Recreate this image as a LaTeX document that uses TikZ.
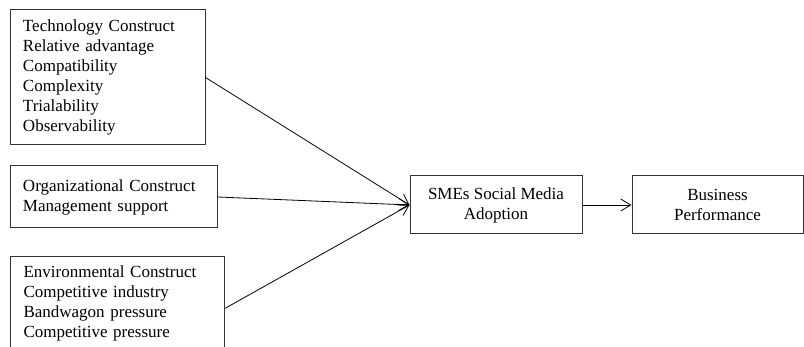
\documentclass[tikz,border=0pt]{standalone}
\usepackage{fontspec}
\setmainfont{Liberation Serif}
\usetikzlibrary{arrows.meta}

\begin{document}
\begin{tikzpicture}[x=1pt, y=1pt,
  construct/.style={draw=black!80, line width=1pt, text width=#1, align=left,
    inner xsep=13pt, inner ysep=9pt, font=\fontsize{17}{20}\selectfont},
  stage/.style={draw=black!80, line width=1pt, align=center, minimum height=58pt,
    font=\fontsize{17}{20}\selectfont},
  link/.style={line width=0.8pt, draw=black, -{Straight Barb[length=10pt, width=12pt]}}]
\useasboundingbox (0,0) rectangle (804,347);
% constructs on the left
\node[construct=169pt, minimum height=135pt] (tech) at (107.5,269.5) {Technology Construct\\Relative advantage\\Compatibility\\Complexity\\Trialability\\Observability};
\node[construct=181pt, minimum height=62pt] (org) at (113.5,150) {Organizational Construct\\Management support};
\node[construct=188pt, text depth=74pt, anchor=north west] (env) at (10,91) {Environmental Construct\\Competitive industry\\Bandwagon pressure\\Competitive pressure};
% adoption and outcome
\node[stage, minimum width=172pt] (sma) at (496,142) {SMEs Social Media\\Adoption};
\node[stage, minimum width=171pt] (bp) at (717.5,142) {Business\\Performance};
\draw [link] (tech.east) -- (sma.west);
\draw [link] (org.east) -- (sma.west);
\draw [link] (env.east) -- (sma.west);
\draw [link] (sma) -- (bp);
\end{tikzpicture}
\end{document}
